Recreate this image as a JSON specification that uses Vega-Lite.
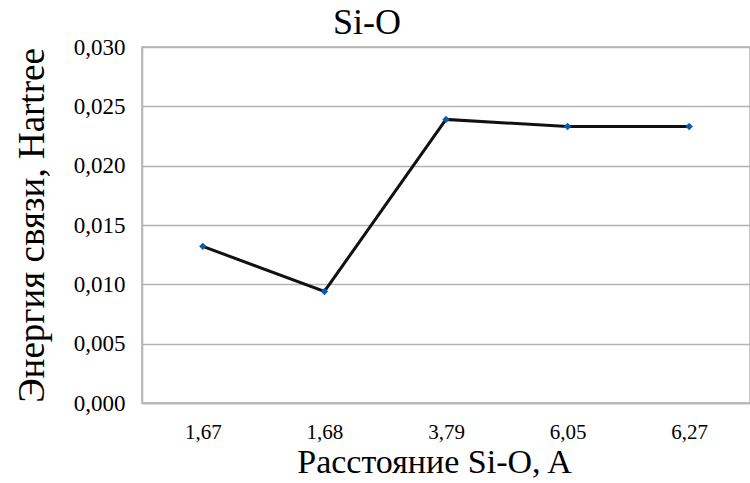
{
  "$schema": "https://vega.github.io/schema/vega-lite/v6.json",
  "width": 608,
  "height": 356,
  "autosize": {"type": "none"},
  "padding": {"left": 142, "top": 47, "right": 0, "bottom": 80},
  "background": "white",
  "config": {
    "font": "Liberation Serif",
    "title": {"font": "Liberation Serif", "fontWeight": 400},
    "axis": {"titleFont": "Liberation Serif", "labelFont": "Liberation Serif", "titleFontWeight": 400},
    "view": {"stroke": "#b3b3b3", "strokeWidth": 1.5}
  },
  "title": {
    "text": "Si-O",
    "fontSize": 36,
    "color": "#000000",
    "anchor": "middle",
    "dx": -79,
    "offset": -6
  },
  "data": {
    "values": [
      {"distance": "1,67", "energy": 0.0132},
      {"distance": "1,68", "energy": 0.0094},
      {"distance": "3,79", "energy": 0.0239},
      {"distance": "6,05", "energy": 0.0233},
      {"distance": "6,27", "energy": 0.0233}
    ]
  },
  "encoding": {
    "x": {
      "field": "distance",
      "type": "ordinal",
      "sort": null,
      "scale": {"paddingInner": 0, "paddingOuter": 0},
      "axis": {
        "title": "Расстояние Si-O, A",
        "titleFontSize": 34,
        "titleColor": "#000000",
        "titlePadding": 3,
        "titleX": 292,
        "labelAngle": 0,
        "labelFontSize": 21,
        "labelColor": "#000000",
        "labelPadding": 18,
        "ticks": false,
        "domain": true,
        "domainColor": "#b3b3b3",
        "domainWidth": 1.5,
        "grid": false
      }
    },
    "y": {
      "field": "energy",
      "type": "quantitative",
      "scale": {"domain": [0, 0.03], "nice": false},
      "axis": {
        "title": "Энергия связи, Hartree",
        "titleFontSize": 37,
        "titleColor": "#000000",
        "titlePadding": 22,
        "values": [0, 0.005, 0.01, 0.015, 0.02, 0.025, 0.03],
        "labelExpr": "replace(format(datum.value, '.3f'), '.', ',')",
        "labelFontSize": 23,
        "labelColor": "#000000",
        "labelPadding": 17,
        "ticks": false,
        "domain": true,
        "domainColor": "#b3b3b3",
        "domainWidth": 1.5,
        "grid": true,
        "gridColor": "#b3b3b3",
        "gridWidth": 1.5
      }
    }
  },
  "layer": [
    {"mark": {"type": "line", "color": "#111111", "strokeWidth": 3}},
    {"mark": {"type": "point", "shape": "diamond", "filled": true, "color": "#0a5cad", "size": 55, "opacity": 1}}
  ]
}
